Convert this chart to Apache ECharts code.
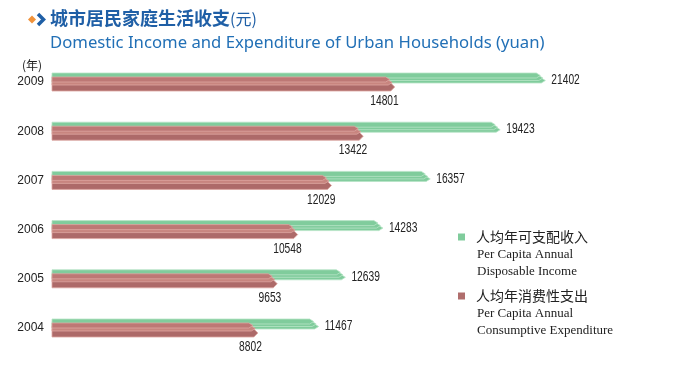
<!DOCTYPE html>
<html><head><meta charset="utf-8">
<script src="https://cdn.jsdelivr.net/npm/echarts@6/dist/echarts.min.js"></script>
<style>html,body{margin:0;padding:0;background:#fff}#c{width:700px;height:372px}</style>
</head><body><div id="c"></div>
<script>
const years = ['2004','2005','2006','2007','2008','2009'];
const income = [11467,12639,14283,16357,19423,21402];
const expenditure = [8802,9653,10548,12029,13422,14801];
const seriesNames = ['人均年可支配收入','人均年消费性支出'];
const seriesNamesEn = [['Per Capita Annual','Disposable Income'],['Per Capita Annual','Consumptive Expenditure']];

const NUM_FONT = '15.5px "Liberation Sans",Arial,sans-serif';
const NUM_SCALE = 0.66;

function arrowLayer(x0, tipX, top, h, fill, stroke){
  const d = 4;
  return {type:'polygon', shape:{points:[[x0,top],[tipX-d,top],[tipX,top+h/2],[tipX-d,top+h],[x0,top+h]]},
    style:{fill:fill, stroke:stroke, lineWidth:0.8}};
}

function numText(v, x, y, align){
  return {type:'text', x:x, y:y, scaleX:NUM_SCALE,
    style:{text:String(v), x:0, y:0, verticalAlign:'middle', align:align, font:NUM_FONT, fill:'#222'}};
}

function renderIncome(params, api){
  const v = api.value(0), i = api.value(1);
  const p = api.coord([v, i]), p0 = api.coord([0, i]);
  const c = p[1], xt = p[0], x0 = p0[0];
  const ch = [];
  for (let k = 2; k >= 0; k--) {
    ch.push(arrowLayer(x0, xt + k*2.5, c - 9 + k*2.5, 5, '#80cc9c', '#b8e4c7'));
  }
  ch.push(numText(v, xt + 11, c - 2, 'left'));
  return {type:'group', children:ch};
}

function renderExp(params, api){
  const v = api.value(0), i = api.value(1);
  const p = api.coord([v, i]), p0 = api.coord([0, i]);
  const c = p[1], xt = p[0], x0 = p0[0];
  const fills = ['#bd7875','#c8857f','#ad6a69'];
  const hs = [5,5,8];
  const ch = [];
  for (let k = 2; k >= 0; k--) {
    ch.push(arrowLayer(x0, xt + k*2.5, c - 5 + k*3, hs[k], fills[k], '#dda6a1'));
  }
  ch.push(numText(v, xt + 9, c + 19, 'right'));
  return {type:'group', children:ch};
}

const chart = echarts.init(document.getElementById('c'), null, {renderer:'canvas'});
chart.setOption({
  animation:false,
  grid:{left:52, right:146, top:57.4, bottom:19.4},
  xAxis:{type:'value', min:0, max:22000, show:false},
  yAxis:{type:'category', data:years, axisLine:{show:false}, axisTick:{show:false},
    axisLabel:{color:'#222', fontSize:12, fontFamily:'"Liberation Sans",Arial,sans-serif', margin:8}},
  legend:{orient:'vertical', left:453, top:225, itemWidth:7, itemHeight:7, icon:'rect', itemGap:45,
    textStyle:{fontFamily:'"Noto Sans CJK SC",sans-serif', fontSize:14, color:'#222', padding:[0,0,0,6]},
    data:seriesNames},
  series:[
    {name:seriesNames[0], type:'custom', renderItem:renderIncome, itemStyle:{color:'#80cc9c'},
     encode:{x:0, y:1}, data:income.map((v,i)=>[v,i])},
    {name:seriesNames[1], type:'custom', renderItem:renderExp, itemStyle:{color:'#b06e6d'},
     encode:{x:0, y:1}, data:expenditure.map((v,i)=>[v,i])}
  ],
  graphic:[
    {type:'polygon', shape:{points:[[32,15.5],[36,19.5],[32,23.5],[28,19.5]]}, style:{fill:'#f0923a'}},
    {type:'polyline', shape:{points:[[38,14],[43.5,19.5],[38,25]]}, style:{stroke:'#1f5fa6', lineWidth:3.5, fill:null}},
    {type:'text', left:50, top:9.5, style:{rich:{a:{fontSize:18, fontWeight:'bold', fill:'#1f5fa6', fontFamily:'"Noto Sans CJK SC",sans-serif'},
      b:{fontSize:16, fill:'#1f5fa6', fontFamily:'"Noto Sans CJK SC",sans-serif'}},
      text:'{a|城市居民家庭生活收支}{b|(元)}'}},
    {type:'text', left:50, top:34.5, style:{text:'Domestic Income and Expenditure of Urban Households (yuan)',
      font:'16.7px "Noto Sans",sans-serif', fill:'#2270b6'}},
    {type:'text', left:22, top:59, style:{text:'(年)', font:'12px "Noto Sans CJK SC",sans-serif', fill:'#222'}},
    {type:'text', left:477, top:246, style:{text:seriesNamesEn[0].join('\n'), font:'13px "Liberation Serif",serif', fill:'#222', lineHeight:17}},
    {type:'text', left:477, top:305, style:{text:seriesNamesEn[1].join('\n'), font:'13px "Liberation Serif",serif', fill:'#222', lineHeight:17}}
  ]
});
</script></body></html>
